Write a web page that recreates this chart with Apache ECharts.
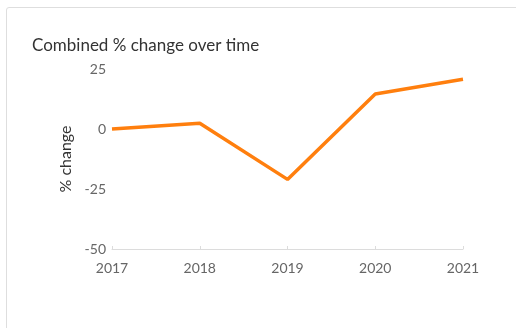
<!DOCTYPE html>
<html>
<head>
<meta charset="utf-8">
<script src="https://cdn.jsdelivr.net/npm/echarts@6/dist/echarts.min.js"></script>
<style>
  html, body { margin: 0; padding: 0; background: #fff; }
  #wrap { position: relative; width: 516px; height: 328px; overflow: hidden; }
  #card { position: absolute; left: 6px; top: 7px; width: 600px; height: 400px;
          border: 1px solid #dedede; border-radius: 3px; box-sizing: border-box; }
  #chart { position: absolute; left: 0; top: 0; width: 516px; height: 328px; }
</style>
</head>
<body>
<div id="wrap">
  <div id="card"></div>
  <div id="chart"></div>
</div>
<script>
// Yearly combined percentage change
const years = ['2017', '2018', '2019', '2020', '2021'];
const pctChange = [0, 2.4, -21, 14.6, 20.7];
const yTicks = { min: -50, max: 25, interval: 25 };

const chart = echarts.init(document.getElementById('chart'), null, { renderer: 'canvas' });
chart.setOption({
  animation: false,
  textStyle: { fontFamily: 'Lato' },
  title: {
    text: 'Combined % change over time',
    left: 27, top: 32,
    textStyle: { fontFamily: 'Lato', fontSize: 17, fontWeight: 'normal', color: '#333' }
  },
  grid: { left: 112, right: 53, top: 69, bottom: 79, containLabel: false },
  xAxis: {
    type: 'category',
    data: years,
    boundaryGap: false,
    axisLine: { onZero: false, lineStyle: { color: '#dcdcdc', width: 1 } },
    axisTick: { show: true, inside: true, alignWithLabel: true, length: 3, lineStyle: { color: '#dcdcdc' } },
    axisLabel: { color: '#666', fontSize: 14, margin: 12, fontFamily: 'Lato' },
    splitLine: { show: false }
  },
  yAxis: {
    type: 'value',
    min: yTicks.min, max: yTicks.max, interval: yTicks.interval,
    name: '% change',
    nameLocation: 'middle',
    nameGap: 36,
    nameTextStyle: { color: '#333', fontSize: 16, fontFamily: 'Lato' },
    axisLine: { show: false },
    axisTick: { show: false },
    axisLabel: { color: '#666', fontSize: 14, margin: 6, fontFamily: 'Lato' },
    splitLine: { show: false }
  },
  series: [{
    type: 'line',
    data: pctChange,
    symbol: 'none',
    lineStyle: { color: '#ff7f0e', width: 3.5 },
    itemStyle: { color: '#ff7f0e' }
  }]
});
</script>
</body>
</html>
